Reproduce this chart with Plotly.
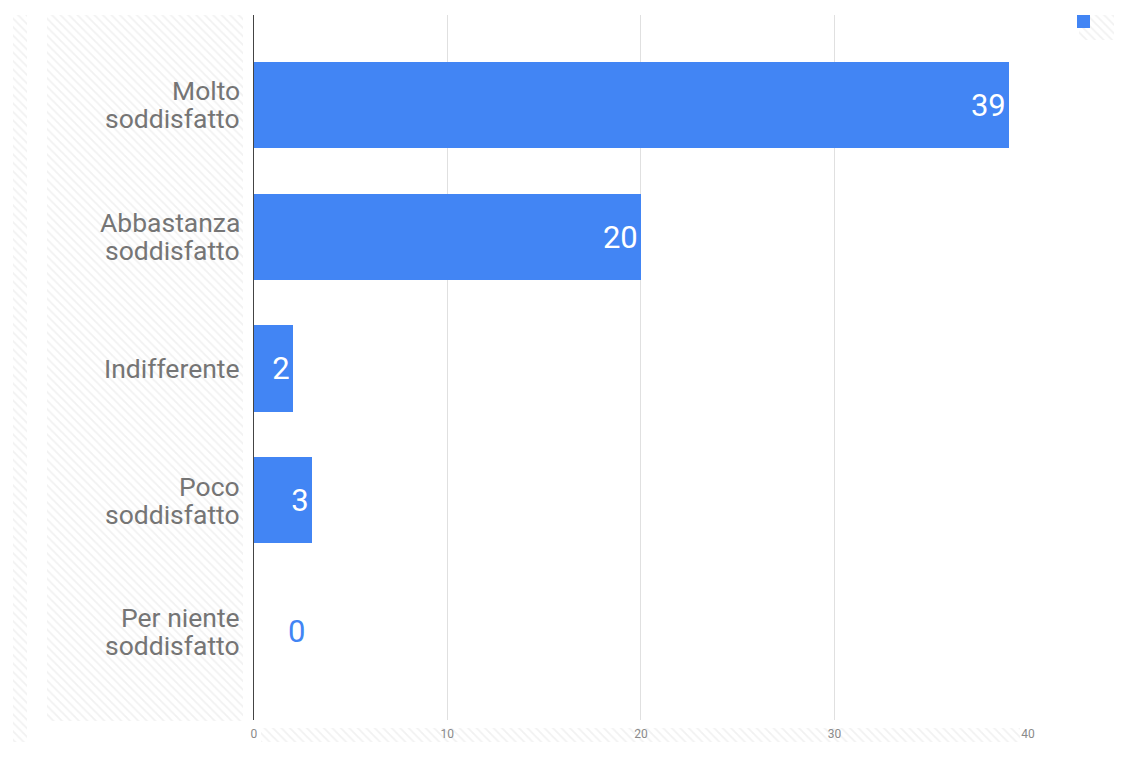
import plotly.graph_objects as go

# ---- data ----
categories = ["Molto\nsoddisfatto", "Abbastanza\nsoddisfatto", "Indifferente",
              "Poco\nsoddisfatto", "Per niente\nsoddisfatto"]
values = [39, 20, 2, 3, 0]
x_ticks = [0, 10, 20, 30, 40]

# ---- style ----
BLUE = "#4285f4"
LABEL_GREY = "#757575"
FONT = "Roboto"
OFF = 8        # page body margin of the browser
SX = 0.992     # horizontal scale of the photographed page


def px(x):
    """picture x -> figure x"""
    return x / SX - OFF


def py(y):
    """picture y -> figure y"""
    return y - OFF


W, H = 1114, 753
PLOT_L, PLOT_R, PLOT_T, PLOT_B = 253 - OFF, px(1026), py(15), py(720)

# decorative hatched background panels (picture pixel boxes: x0, x1, y0, y1)
hatch_boxes = [(10, 24, 15, 742), (44, 240, 15, 721), (1077, 1122, 15, 40),
               (258, 1018, 728, 742)]
hatch_boxes = [(px(a), min(px(b), W), py(c), min(py(d), H))
               for a, b, c, d in hatch_boxes]

fig = go.Figure()

# hatched decoration on a full-page helper axis pair
fig.add_trace(go.Bar(
    x=[(b[0] + b[1]) / 2 for b in hatch_boxes],
    width=[b[1] - b[0] for b in hatch_boxes],
    base=[b[2] for b in hatch_boxes],
    y=[b[3] - b[2] for b in hatch_boxes],
    marker=dict(color="white", line=dict(width=0),
                pattern=dict(shape="\\", fgcolor="#e4e4e4", bgcolor="white",
                             size=6, solidity=0.3)),
    xaxis="x", yaxis="y", hoverinfo="skip", showlegend=False,
))

# main bars
bar_text = [str(v) if v > 0 else "" for v in values]
fig.add_trace(go.Bar(
    x=values, y=list(range(len(categories))), orientation="h",
    marker=dict(color=BLUE, line=dict(width=0)),
    width=0.653,
    text=bar_text, textposition="inside", insidetextanchor="end",
    textangle=0, constraintext="none",
    textfont=dict(family=FONT, size=31, color="white"),
    xaxis="x2", yaxis="y2", showlegend=False, cliponaxis=False,
))

annotations = []
# category labels (tight two-line layout)
LINE_GAP = 28
for i, cat in enumerate(categories):
    lines = cat.split("\n")
    n = len(lines)
    for j, ln in enumerate(lines):
        shift = (-(j - (n - 1) / 2)) * LINE_GAP
        annotations.append(dict(
            x=px(240) - 2, y=i, xref="x", yref="y2", text=ln, showarrow=False,
            xanchor="right", yanchor="middle", yshift=shift, borderpad=0,
            font=dict(family=FONT, size=26.5, color=LABEL_GREY)))
# zero-value labels outside the bar
for i, v in enumerate(values):
    if v == 0:
        annotations.append(dict(
            x=v, y=i, xref="x2", yref="y2", text=str(v), showarrow=False,
            xanchor="center", yanchor="middle", xshift=43,
            font=dict(family=FONT, size=31, color=BLUE)))

fig.update_layout(
    width=W, height=H,
    margin=dict(l=0, r=0, t=0, b=0),
    paper_bgcolor="white", plot_bgcolor="rgba(0,0,0,0)",
    bargap=0,
    annotations=annotations,
    shapes=[dict(type="rect", xref="x", yref="y", x0=px(1075), x1=px(1088),
                 y0=py(15), y1=py(28),
                 fillcolor=BLUE, line=dict(width=0), layer="above")],
    xaxis=dict(domain=[0, 1], range=[0, W], visible=False, fixedrange=True),
    yaxis=dict(domain=[0, 1], range=[H, 0], visible=False, fixedrange=True),
    xaxis2=dict(domain=[PLOT_L / W, PLOT_R / W], range=[0, 40], anchor="y2",
                tickvals=x_ticks, showgrid=True, gridcolor="#e0e0e0", gridwidth=1,
                zeroline=True, zerolinecolor="#444444", zerolinewidth=1,
                showline=False, ticks="",
                tickfont=dict(family=FONT, size=12, color="#8a8a8a"),
                ticklabelstandoff=5),
    yaxis2=dict(domain=[1 - PLOT_B / H, 1 - PLOT_T / H], anchor="x2",
                range=[4.668, -0.683], showticklabels=False, showgrid=False,
                zeroline=False, showline=False, ticks=""),
)

fig.write_html("out.html")
